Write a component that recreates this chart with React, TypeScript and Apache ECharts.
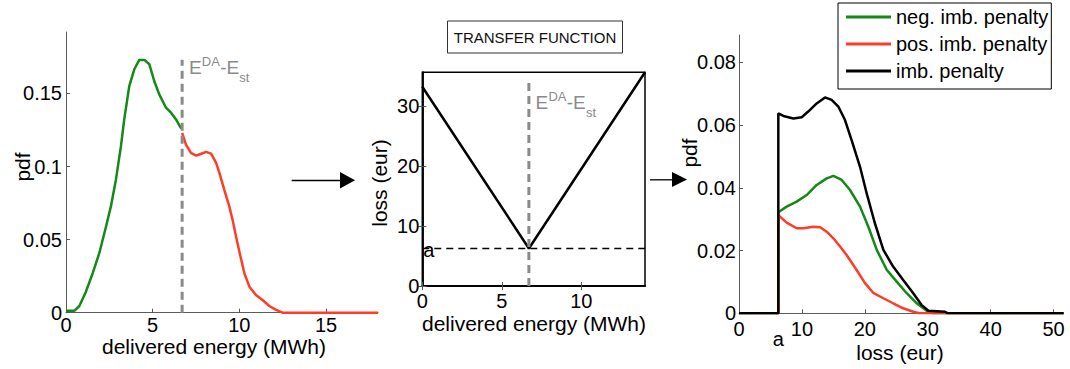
import React, { useEffect, useRef } from "react";
import * as echarts from "echarts";

// ---------- data ----------
const E_DA_EST = 6.7; // E^DA - E_st (MWh)
const A_LOSS = 6.25; // minimum loss "a" (eur)

// Left panel: pdf of delivered energy
const leftGreenX = [0, 0.48, 0.77, 1.15, 1.54, 1.92, 2.31, 2.59, 2.88, 3.17, 3.36, 3.65, 3.94, 4.23, 4.52, 4.81, 5.09, 5.38, 5.77, 6.06, 6.35, 6.54, 6.65];
const leftGreenY = [0.0013, 0.0013, 0.0046, 0.0144, 0.027, 0.0407, 0.059, 0.0727, 0.091, 0.1139, 0.1322, 0.155, 0.1665, 0.1729, 0.1729, 0.1699, 0.1585, 0.1493, 0.1402, 0.1368, 0.1322, 0.1281, 0.126];
const leftRedX = [6.7, 6.92, 7.21, 7.5, 7.69, 8.08, 8.37, 8.66, 8.85, 9.13, 9.42, 9.61, 9.81, 10.0, 10.29, 10.58, 10.96, 11.34, 11.73, 12.12, 12.5, 18];
const leftRedY = [0.123, 0.115, 0.1093, 0.1075, 0.1082, 0.11, 0.1088, 0.1025, 0.0956, 0.0842, 0.0727, 0.0636, 0.0521, 0.0418, 0.027, 0.0178, 0.0121, 0.0087, 0.0046, 0.0019, 0, 0];
const leftXTicks = [0, 5, 10, 15];
const leftYTicks = [0, 0.05, 0.1, 0.15];
const leftDashTop = 0.173;

// Middle panel: transfer function
const midX = [0, E_DA_EST, 14];
const midY = [33.2, A_LOSS, 35.6];
const midXTicks = [0, 5, 10];
const midYTicks = [0, 10, 20, 30];
const midDashTop = 34.6;

// Right panel: pdf of loss
const rightGreenX = [0, A_LOSS, A_LOSS, 7.58, 9.17, 10.76, 12.35, 13.94, 15.0, 16.33, 17.65, 19.24, 20.56, 21.9, 23.5, 25.07, 26.66, 28.25, 29.84, 30.9, 51.6];
const rightGreenY = [0, 0, 0.0322, 0.034, 0.0356, 0.0377, 0.0409, 0.043, 0.0438, 0.0425, 0.0393, 0.034, 0.0276, 0.0202, 0.0138, 0.0101, 0.0064, 0.0032, 0.0008, 0, 0];
const rightRedX = [0, A_LOSS, A_LOSS, 7.58, 9.17, 10.23, 11.8, 12.9, 13.94, 15.0, 16.1, 17.1, 18.7, 20.03, 21.4, 22.95, 24.5, 26.1, 27.7, 28.7, 51.6];
const rightRedY = [0, 0, 0.0313, 0.0289, 0.0271, 0.0271, 0.0276, 0.0274, 0.026, 0.0239, 0.0212, 0.0186, 0.0138, 0.0096, 0.0064, 0.0048, 0.0032, 0.0016, 0.0005, 0, 0];
const rightBlackX = [0, A_LOSS, A_LOSS, 7.05, 8.64, 9.97, 11.0, 12.35, 13.67, 14.73, 15.79, 16.85, 17.9, 19.24, 20.3, 21.6, 22.95, 24.5, 26.1, 27.7, 29.0, 30.1, 32.75, 33.2, 51.6];
const rightBlackY = [0, 0, 0.0637, 0.0629, 0.0621, 0.0625, 0.0643, 0.0669, 0.0688, 0.068, 0.0659, 0.0616, 0.0552, 0.0467, 0.0382, 0.0287, 0.0202, 0.0149, 0.0106, 0.0064, 0.0027, 0.0008, 0.0005, 0, 0];
const rightXTicks = [0, 10, 20, 30, 40, 50];
const rightYTicks = [0, 0.02, 0.04, 0.06, 0.08];

const legendNames = ["neg. imb. penalty", "pos. imb. penalty", "imb. penalty"];

// ---------- styles ----------
const FONT = "'Liberation Sans', Arial, sans-serif";
const GREEN = "#138a13";
const RED = "#ff3d26";
const GRAY = "#8a8a8a";
const AXIS_GRAY = "#5c5c5c";

const zip = (xs: number[], ys: number[]) => xs.map((x, i) => [x, ys[i]]);

const valueAxis = (
  gridIndex: number,
  min: number,
  max: number,
  ticks: number[],
  opts: any = {}
) => ({
  type: "value",
  gridIndex,
  min,
  max,
  interval: ticks[1] - ticks[0],
  splitLine: { show: false },
  axisLine: { show: true, lineStyle: { color: opts.lineColor || AXIS_GRAY, width: opts.lineWidth || 1 } },
  axisTick: { show: true, inside: true, length: 4, customValues: ticks, lineStyle: { color: "#555" } },
  axisLabel: {
    show: opts.showLabel !== false,
    customValues: ticks,
    fontSize: 20,
    lineHeight: 20,
    color: "#000",
    fontFamily: FONT,
    margin: opts.margin ?? 5,
    formatter: (v: number) => (ticks.some((t) => Math.abs(t - v) < 1e-9) ? String(v) : ""),
  },
  position: opts.position,
});

export default function App() {
  const ref = useRef<HTMLDivElement>(null);

  useEffect(() => {
    const el = ref.current!;
    const chart = echarts.init(el, null, { renderer: "svg" });

    const line = (name: string | undefined, xi: number, yi: number, data: number[][], color: string, width: number, type: any = "solid", z = 2) => ({
      type: "line",
      name,
      xAxisIndex: xi,
      yAxisIndex: yi,
      data,
      symbol: "none",
      showSymbol: false,
      silent: true,
      z,
      lineStyle: { color, width, type },
      itemStyle: { color },
    });

    const option: any = {
      animation: false,
      textStyle: { fontFamily: FONT },
      grid: [
        { left: 66, top: 32, width: 312, height: 280.7 },
        { left: 422.3, top: 72.3, width: 222.7, height: 213.7, show: true, borderColor: "#000", borderWidth: 1.5, backgroundColor: "transparent" },
        { left: 739, top: 35, width: 324.6, height: 278.3 },
      ],
      xAxis: [
        valueAxis(0, 0, 18, leftXTicks, { margin: 2 }),
        valueAxis(1, 0, 14, midXTicks, { margin: 5, lineColor: "#000", lineWidth: 1.5 }),
        valueAxis(2, 0, 51.6, rightXTicks, { margin: 6 }),
        valueAxis(1, 0, 14, midXTicks, { showLabel: false, position: "top", lineColor: "#000", lineWidth: 1.5 }),
      ],
      yAxis: [
        valueAxis(0, 0, 0.192, leftYTicks, { margin: 4 }),
        valueAxis(1, 0, 35.6, midYTicks, { margin: 3, lineColor: "#000", lineWidth: 1.5 }),
        valueAxis(2, 0, 0.0887, rightYTicks, { margin: 3 }),
        valueAxis(1, 0, 35.6, midYTicks, { showLabel: false, position: "right", lineColor: "#000", lineWidth: 1.5 }),
      ],
      legend: {
        data: legendNames,
        orient: "vertical",
        left: 838,
        top: 3,
        padding: [4, 3, 8, 8],
        icon: "rect",
        itemWidth: 45,
        itemHeight: 3,
        itemGap: 7,
        backgroundColor: "#fff",
        borderColor: "#000",
        borderWidth: 1,
        borderRadius: 0,
        textStyle: { fontSize: 20, color: "#000", fontFamily: FONT, lineHeight: 20 },
      },
      series: [
        line(undefined, 0, 0, zip(leftGreenX, leftGreenY), GREEN, 2.5),
        line(undefined, 0, 0, zip(leftRedX, leftRedY), RED, 2.5),
        line(undefined, 0, 0, [[E_DA_EST, 0], [E_DA_EST, leftDashTop]], GRAY, 3, [8, 5], 3),
        line(undefined, 1, 1, [[0, A_LOSS], [14, A_LOSS]], "#000", 1.3, [7, 5], 2),
        line(undefined, 1, 1, zip(midX, midY), "#000", 2.5, "solid", 3),
        line(undefined, 1, 1, [[E_DA_EST, 0], [E_DA_EST, midDashTop]], GRAY, 3, [8, 5], 4),
        line(legendNames[0], 2, 2, zip(rightGreenX, rightGreenY), GREEN, 2.5),
        line(legendNames[1], 2, 2, zip(rightRedX, rightRedY), RED, 2.5),
        line(legendNames[2], 2, 2, zip(rightBlackX, rightBlackY), "#000", 2.5),
      ],
    };
    chart.setOption(option);

    const px = (g: number, v: number[]) => chart.convertToPixel({ gridIndex: g } as any, v) as number[];
    const txt = (x: number, y: number, text: string, size: number, fill: string, align = "left", rotation = 0) => ({
      type: "text",
      x,
      y,
      rotation,
      silent: true,
      z: 100,
      style: { text, fontSize: size, lineHeight: size, fill, fontFamily: FONT, align, verticalAlign: "middle" },
    });
    // E^{DA}-E_{st}: pieces placed side by side without overlapping
    const eLabel = (x0: number, yc: number) => [
      txt(x0, yc, "E", 19, GRAY),
      txt(x0 + 12.9, yc - 5.6, "DA", 13, GRAY),
      txt(x0 + 31.2, yc, "-E", 19, GRAY),
      txt(x0 + 50.4, yc + 10.4, "st", 13, GRAY),
    ];

    const l = px(0, [E_DA_EST, 0.1677]);
    const m = px(1, [E_DA_EST, 30.6]);
    const aMid = px(1, [0, A_LOSS]);
    const aRight = px(2, [A_LOSS, 0]);

    const graphic: any[] = [
      ...eLabel(l[0] + 6.8, l[1]),
      ...eLabel(m[0] + 6.7, m[1]),
      txt(aMid[0] + 1, aMid[1] + 1.5, "a", 20, "#000"),
      txt(aRight[0], aRight[1] + 26, "a", 20, "#000", "center"),
      // axis names
      txt(214, 346, "delivered energy (MWh)", 21, "#000", "center"),
      txt(534, 323, "delivered energy (MWh)", 21, "#000", "center"),
      txt(900, 352, "loss (eur)", 21, "#000", "center"),
      txt(22, 167, "pdf", 21, "#000", "center", Math.PI / 2),
      txt(379, 183, "loss (eur)", 21, "#000", "center", Math.PI / 2),
      txt(689, 153, "pdf", 21, "#000", "center", Math.PI / 2),
      // transfer function box
      { type: "rect", silent: true, shape: { x: 447.5, y: 21, width: 175, height: 32 }, style: { fill: "#fff", stroke: "#333", lineWidth: 1 } },
      txt(535, 37, "TRANSFER FUNCTION", 15, "#111", "center"),
      // arrows
      { type: "line", silent: true, shape: { x1: 291.7, y1: 180.5, x2: 341, y2: 180.5 }, style: { stroke: "#000", lineWidth: 1.3 } },
      { type: "polygon", silent: true, shape: { points: [[340, 172], [355, 180.2], [340, 188.5]] }, style: { fill: "#000" } },
      { type: "line", silent: true, shape: { x1: 650, y1: 179.8, x2: 673, y2: 179.8 }, style: { stroke: "#000", lineWidth: 1.3 } },
      { type: "polygon", silent: true, shape: { points: [[672, 172], [687, 179.5], [672, 187]] }, style: { fill: "#000" } },
    ];
    chart.setOption({ graphic });

    return () => chart.dispose();
  }, []);

  return <div ref={ref} style={{ position: "absolute", left: 0, top: 0, width: 1070, height: 369 }} />;
}
